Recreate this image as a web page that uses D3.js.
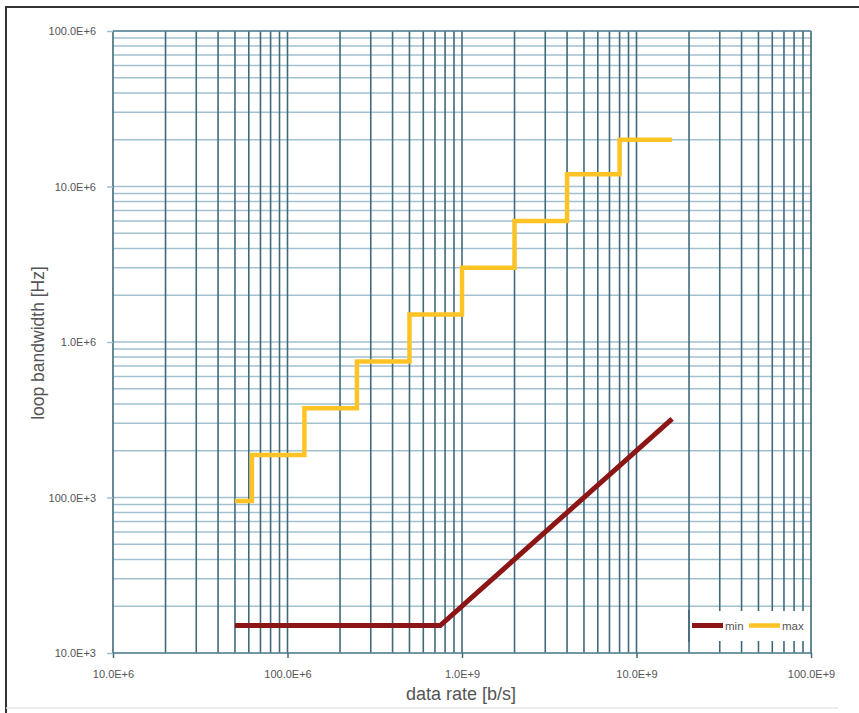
<!DOCTYPE html>
<html>
<head>
<meta charset="utf-8">
<script src="https://cdn.jsdelivr.net/npm/d3@7/dist/d3.min.js"></script>
<style>
  html, body { margin: 0; padding: 0; background: #fff; }
  svg { display: block; }
  text { font-family: "Liberation Sans", Arial, sans-serif; }
</style>
</head>
<body>
<svg id="chart" width="859" height="713"></svg>
<script>
// ---- data ----
const maxRate = [50e6, 62.5e6, 125e6, 250e6, 500e6, 1e9, 2e9, 4e9, 8e9, 16e9];
const maxBW   = [95e3, 187.5e3, 375e3, 750e3, 1.5e6, 3e6, 6e6, 12e6, 20e6, 20e6];
const minRate = [50e6, 750e6, 16e9];
const minBW   = [15e3, 15e3, 320e3];
const xTickValues = [1e7, 1e8, 1e9, 1e10, 1e11];
const xTickLabels = ["10.0E+6", "100.0E+6", "1.0E+9", "10.0E+9", "100.0E+9"];
const yTickValues = [1e4, 1e5, 1e6, 1e7, 1e8];
const yTickLabels = ["10.0E+3", "100.0E+3", "1.0E+6", "10.0E+6", "100.0E+6"];
const seriesNames = ["min", "max"];

const svg = d3.select("#chart");
const L = 113, R = 811, T = 31, B = 653;
const x = d3.scaleLog().domain([1e7, 1e11]).range([L, R]);
const y = d3.scaleLog().domain([1e4, 1e8]).range([B, T]);

const vCol = "#41697a", hCol = "#a2c1d0", txtCol = "#555";

// frame
svg.append("line").attr("x1", 5).attr("x2", 859).attr("y1", 7).attr("y2", 7).attr("stroke", "#333").attr("stroke-width", 2);
svg.append("line").attr("x1", 6).attr("x2", 6).attr("y1", 6).attr("y2", 713).attr("stroke", "#333").attr("stroke-width", 2);
svg.append("line").attr("x1", 6).attr("x2", 838).attr("y1", 708).attr("y2", 708).attr("stroke", "#e6e6e6").attr("stroke-width", 1.5);

// grid values
const xGrid = [], yGrid = [];
for (let e = 7; e < 11; e++) for (let m = 1; m <= 9; m++) xGrid.push(m * Math.pow(10, e));
xGrid.push(1e11);
for (let e = 4; e < 8; e++) for (let m = 1; m <= 9; m++) yGrid.push(m * Math.pow(10, e));
yGrid.push(1e8);

const g = svg.append("g");
g.selectAll("line.h").data(yGrid).join("line").attr("class", "h")
  .attr("x1", L).attr("x2", R).attr("y1", d => y(d)).attr("y2", d => y(d))
  .attr("stroke", hCol).attr("stroke-width", 1.5);
const gv = svg.append("g");
gv.selectAll("line.v").data(xGrid).join("line").attr("class", "v")
  .attr("x1", d => x(d)).attr("x2", d => x(d)).attr("y1", T).attr("y2", B)
  .attr("stroke", vCol).attr("stroke-width", 1.6);
// top/bottom edges
gv.append("line").attr("x1", L).attr("x2", R).attr("y1", T).attr("y2", T).attr("stroke", "#5d8595").attr("stroke-width", 1.6);
gv.append("line").attr("x1", L).attr("x2", R).attr("y1", B).attr("y2", B).attr("stroke", "#5d8595").attr("stroke-width", 1.6);

// axes
const xAxis = d3.axisBottom(x).tickValues(xTickValues).tickFormat((d, i) => xTickLabels[i]).tickSize(5).tickPadding(12);
const xa = svg.append("g").attr("transform", `translate(0,${B})`).call(xAxis);
xa.select(".domain").remove();
xa.selectAll(".tick line").attr("stroke", vCol).attr("stroke-width", 1.5);
xa.selectAll(".tick text").attr("fill", txtCol).style("font-size", "11px").style("font-family", "'Liberation Sans', Arial, sans-serif");

const yAxis = d3.axisLeft(y).tickValues(yTickValues).tickFormat((d, i) => yTickLabels[i]).tickSize(6).tickPadding(11);
const ya = svg.append("g").attr("transform", `translate(${L},0)`).call(yAxis);
ya.select(".domain").remove();
ya.selectAll(".tick line").attr("stroke", hCol).attr("stroke-width", 1.5);
ya.selectAll(".tick text").attr("fill", txtCol).style("font-size", "11px").style("font-family", "'Liberation Sans', Arial, sans-serif");

// series
const maxData = maxRate.map((r, i) => [r, maxBW[i]]);
const minData = minRate.map((r, i) => [r, minBW[i]]);
const stepLine = d3.line().x(d => x(d[0])).y(d => y(d[1])).curve(d3.curveStepAfter);
const plainLine = d3.line().x(d => x(d[0])).y(d => y(d[1]));
svg.append("path").datum(maxData).attr("d", stepLine).attr("fill", "none")
  .attr("stroke", "#ffc326").attr("stroke-width", 4.5).attr("stroke-linejoin", "miter");
svg.append("path").datum(minData).attr("d", plainLine).attr("fill", "none")
  .attr("stroke", "#8c1616").attr("stroke-width", 5).attr("stroke-linejoin", "miter");

// legend: white box whose left edge is the 20E9 grid line, then entries
const legendLeft = x(2e10);
const lg = svg.append("g");
lg.append("rect").attr("x", legendLeft + 1).attr("y", 611).attr("width", R - legendLeft - 2).attr("height", 30).attr("fill", "#fff");
lg.append("line").attr("x1", legendLeft).attr("x2", legendLeft).attr("y1", 610).attr("y2", 642)
  .attr("stroke", vCol).attr("stroke-width", 1.6);
const legendCols = ["#8c1616", "#ffc326"];
const legX = [692, 749];
seriesNames.forEach((n, i) => {
  lg.append("line").attr("x1", legX[i]).attr("x2", legX[i] + 31).attr("y1", 625.5).attr("y2", 625.5)
    .attr("stroke", legendCols[i]).attr("stroke-width", i === 0 ? 5 : 4.5);
  lg.append("text").attr("x", legX[i] + 33).attr("y", 629.5).text(n)
    .attr("fill", txtCol).style("font-size", "11.5px");
});

// titles
svg.append("text").attr("x", 461).attr("y", 700).attr("text-anchor", "middle")
  .attr("fill", txtCol).style("font-size", "18px").text("data rate [b/s]");
svg.append("text").attr("transform", "translate(44,343) rotate(-90)").attr("text-anchor", "middle")
  .attr("fill", txtCol).style("font-size", "17.5px").text("loop bandwidth [Hz]");
</script>
</body>
</html>
